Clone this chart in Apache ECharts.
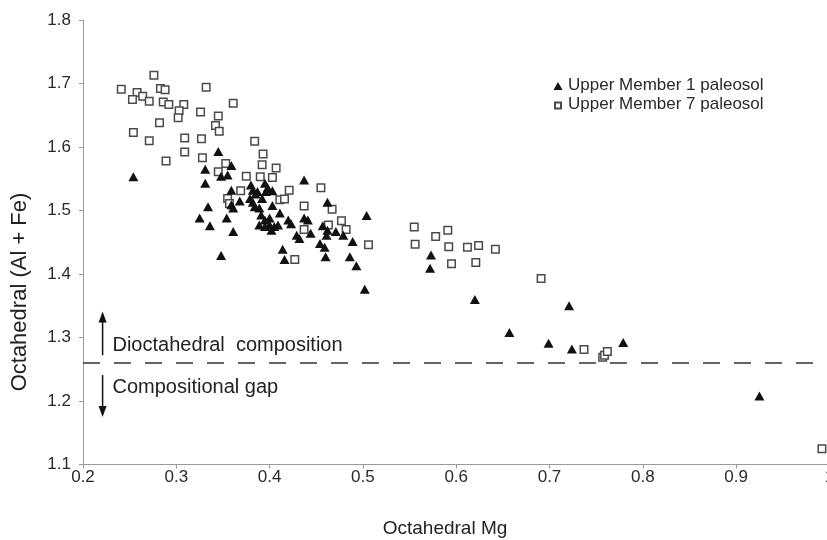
<!DOCTYPE html>
<html><head><meta charset="utf-8">
<script src="https://cdn.jsdelivr.net/npm/echarts@6/dist/echarts.min.js"></script>
<style>html,body{margin:0;padding:0;background:#fff}#c{width:827px;height:540px}</style>
</head><body><div id="c"></div>
<script>
// ---- data ----
const xTickLabels = ['0.2','0.3','0.4','0.5','0.6','0.7','0.8','0.9','1'];
const yTickLabels = ['1.1','1.2','1.3','1.4','1.5','1.6','1.7','1.8'];
const seriesNames = ['Upper Member 1 paleosol', 'Upper Member 7 paleosol'];
const xTitle = 'Octahedral Mg';
const yTitle = 'Octahedral (Al + Fe)';
const upperNote = 'Dioctahedral  composition';
const lowerNote = 'Compositional gap';
const gapValue = 1.256;

// Upper Member 1 paleosol (filled triangles)
const m1Mg = [0.254,0.345,0.359,0.331,0.348,0.355,0.331,0.359,0.380,0.382,0.387,0.395,0.396,0.403,0.368,0.379,0.382,0.359,0.361,0.384,0.389,0.403,0.334,0.411,0.354,0.325,0.336,0.391,0.395,0.400,0.389,0.395,0.400,0.405,0.409,0.402,0.420,0.423,0.361,0.429,0.432,0.348,0.414,0.416,0.437,0.462,0.504,0.437,0.441,0.444,0.457,0.462,0.461,0.471,0.479,0.454,0.459,0.489,0.460,0.486,0.493,0.502,0.573,0.572,0.620,0.657,0.699,0.721,0.724,0.779,0.925,0.385,0.398,0.392];
const m1AlFe = [1.553,1.593,1.571,1.565,1.554,1.556,1.543,1.532,1.540,1.532,1.530,1.543,1.530,1.531,1.515,1.519,1.513,1.509,1.504,1.506,1.504,1.508,1.506,1.496,1.488,1.488,1.476,1.493,1.485,1.488,1.477,1.475,1.477,1.475,1.477,1.469,1.485,1.479,1.467,1.461,1.456,1.429,1.439,1.423,1.548,1.513,1.492,1.488,1.485,1.464,1.476,1.469,1.461,1.467,1.461,1.448,1.442,1.451,1.427,1.427,1.413,1.376,1.430,1.409,1.360,1.308,1.291,1.350,1.282,1.292,1.208,1.526,1.536,1.519];

// Upper Member 7 paleosol (open squares)
const m7Mg = [0.276,0.241,0.258,0.264,0.253,0.271,0.283,0.288,0.286,0.292,0.308,0.332,0.303,0.302,0.326,0.345,0.361,0.282,0.342,0.346,0.254,0.271,0.309,0.327,0.384,0.309,0.289,0.328,0.393,0.353,0.392,0.345,0.375,0.390,0.407,0.403,0.369,0.421,0.355,0.411,0.416,0.437,0.455,0.467,0.477,0.482,0.463,0.506,0.427,0.437,0.555,0.556,0.578,0.591,0.592,0.595,0.612,0.624,0.621,0.642,0.691,0.737,0.757,0.759,0.762,0.992,0.357];
const m7AlFe = [1.713,1.691,1.686,1.680,1.675,1.672,1.692,1.690,1.671,1.667,1.667,1.694,1.657,1.646,1.655,1.649,1.669,1.638,1.634,1.625,1.623,1.610,1.614,1.613,1.609,1.592,1.578,1.583,1.589,1.574,1.572,1.561,1.554,1.553,1.567,1.552,1.531,1.532,1.519,1.517,1.518,1.507,1.536,1.502,1.484,1.470,1.477,1.446,1.423,1.470,1.474,1.447,1.459,1.469,1.443,1.416,1.442,1.445,1.418,1.439,1.393,1.281,1.269,1.272,1.278,1.125,1.511];

// annotation anchors in data units
const arrowMg = 0.221;
const upArrow = [1.272, 1.341];
const downArrow = [1.241, 1.175];
const noteMg = 0.2316;
const upperNoteY = 1.288;
const lowerNoteY = 1.2205;

// ---- chart ----
const FONT = '"Liberation Sans", Arial, Helvetica, sans-serif';
const chart = echarts.init(document.getElementById('c'), null, {renderer: 'canvas'});
const pair = (xs, ys) => xs.map((x, i) => [x, ys[i]]);

const option = {
  animation: false,
  backgroundColor: '#fff',
  grid: {left: 83, top: 20, width: 746.4, height: 444.5, containLabel: false, outerBoundsMode: 'none'},
  xAxis: {
    type: 'value', min: 0.2, max: 1.0, interval: 0.1,
    axisLine: {show: true, onZero: false, lineStyle: {color: '#9a9a9a', width: 1}},
    axisTick: {show: true, length: 4, inside: false, lineStyle: {color: '#9a9a9a'}},
    splitLine: {show: false},
    axisLabel: {
      show: true, margin: 4, fontSize: 17, color: '#2a2a2a', fontFamily: FONT,
      showMinLabel: true, showMaxLabel: true, hideOverlap: false,
      formatter: v => xTickLabels[Math.round((v - 0.2) / 0.1)] || ''
    }
  },
  yAxis: {
    type: 'value', min: 1.1, max: 1.8, interval: 0.1,
    axisLine: {show: true, onZero: false, lineStyle: {color: '#9a9a9a', width: 1}},
    axisTick: {show: true, length: 4, inside: false, lineStyle: {color: '#9a9a9a'}},
    splitLine: {show: false},
    axisLabel: {
      show: true, margin: 12, fontSize: 17, color: '#2a2a2a', fontFamily: FONT,
      showMinLabel: true, showMaxLabel: true,
      formatter: v => yTickLabels[Math.round((v - 1.1) / 0.1)] || ''
    }
  },
  legend: {
    show: true, orient: 'vertical', left: 552, top: 76,
    itemWidth: 10, itemHeight: 10, itemGap: 0, padding: 0,
    textStyle: {fontSize: 17, color: '#2a2a2a', fontFamily: FONT, lineHeight: 19},
    data: [
      {name: seriesNames[0], icon: 'path://M0,0M10,10M0.5,9.5L5,1.5L9.5,9.5Z'},
      {name: seriesNames[1], icon: 'path://M0,0M10,10M2,3L8,3L8,9L2,9Z'}
    ],
    selectedMode: false
  },
  series: [
    {
      name: seriesNames[1], type: 'scatter', z: 2,
      symbol: 'rect', symbolSize: 7.5,
      itemStyle: {color: '#ffffff', borderColor: '#4a4a4a', borderWidth: 1.5, opacity: 1},
      data: pair(m7Mg, m7AlFe),
      markLine: {
        silent: true, symbol: ['none', 'none'], animation: false,
        label: {show: false},
        lineStyle: {type: [17, 14], color: '#333', width: 1.5},
        data: [{yAxis: gapValue}]
      }
    },
    {
      name: seriesNames[0], type: 'scatter', z: 3,
      symbol: 'triangle', symbolSize: [10, 9],
      itemStyle: {color: '#111111', opacity: 1},
      data: pair(m1Mg, m1AlFe)
    }
  ]
};
chart.setOption(option);

const px = (x, y) => chart.convertToPixel({gridIndex: 0}, [x, y]);
const a1 = px(arrowMg, upArrow[0]), a2 = px(arrowMg, upArrow[1]);
const b1 = px(arrowMg, downArrow[0]), b2 = px(arrowMg, downArrow[1]);
const t1 = px(noteMg, upperNoteY), t2 = px(noteMg, lowerNoteY);
const headW = 4, headL = 11;
chart.setOption({
  graphic: [
    {type: 'line', shape: {x1: a1[0], y1: a1[1], x2: a2[0], y2: a2[1] + headL - 1}, style: {stroke: '#111', lineWidth: 1.5}, z: 10},
    {type: 'polygon', shape: {points: [[a2[0], a2[1]], [a2[0] - headW, a2[1] + headL], [a2[0] + headW, a2[1] + headL]]}, style: {fill: '#111'}, z: 10},
    {type: 'line', shape: {x1: b1[0], y1: b1[1], x2: b2[0], y2: b2[1] - headL + 1}, style: {stroke: '#111', lineWidth: 1.5}, z: 10},
    {type: 'polygon', shape: {points: [[b2[0], b2[1]], [b2[0] - headW, b2[1] - headL], [b2[0] + headW, b2[1] - headL]]}, style: {fill: '#111'}, z: 10},
    {type: 'text', x: t1[0], y: t1[1], style: {text: upperNote, font: '20px ' + FONT, fill: '#222', align: 'left', verticalAlign: 'middle'}, z: 10},
    {type: 'text', x: t2[0], y: t2[1], style: {text: lowerNote, font: '20px ' + FONT, fill: '#222', align: 'left', verticalAlign: 'middle'}, z: 10},
    {type: 'text', x: 445, y: 529, style: {text: xTitle, font: '19px ' + FONT, fill: '#222', align: 'center', verticalAlign: 'middle'}, z: 10},
    {type: 'text', x: 20, y: 292, rotation: Math.PI / 2, style: {text: yTitle, font: '22px ' + FONT, fill: '#222', align: 'center', verticalAlign: 'middle'}, z: 10}
  ]
});
</script>
</body></html>
